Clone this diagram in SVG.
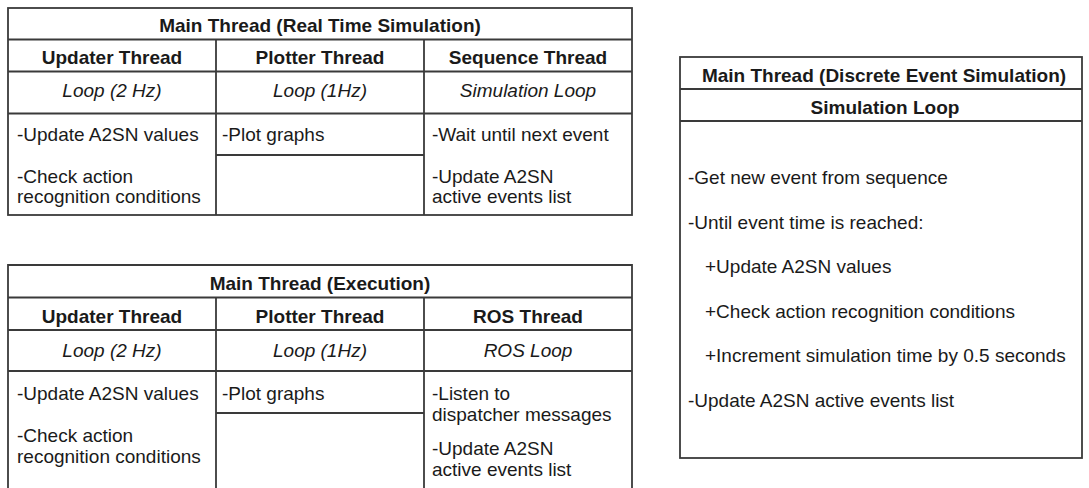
<svg xmlns="http://www.w3.org/2000/svg" width="1089" height="488" viewBox="0 0 1089 488">
  <style>
    .grid { fill: none; stroke: #3a3a3a; stroke-width: 1.8; }
    text { font-family: "Liberation Sans", Arial, Helvetica, sans-serif; font-size: 19px; fill: #1a1a1a; }
    .h { font-weight: bold; text-anchor: middle; }
    .i { font-style: italic; text-anchor: middle; }
  </style>
  <rect width="1089" height="488" fill="#ffffff"/>

  <!-- Real time simulation: main thread with three worker threads -->
  <g id="realtime-table">
    <rect class="grid" x="8" y="8" width="624" height="207"/>
    <path class="grid" d="M8 39.5H632 M8 71.5H632 M8 113.5H632 M216 39.5V215 M424 39.5V215 M216 155H424"/>
    <text class="h" x="320" y="31.5">Main Thread (Real Time Simulation)</text>
    <text class="h" x="112" y="64">Updater Thread</text>
    <text class="h" x="320" y="64">Plotter Thread</text>
    <text class="h" x="528" y="64">Sequence Thread</text>
    <text class="i" x="112" y="97">Loop (2 Hz)</text>
    <text class="i" x="320" y="97">Loop (1Hz)</text>
    <text class="i" x="528" y="97">Simulation Loop</text>
    <text x="17" y="141">-Update A2SN values</text>
    <text x="17" y="183">-Check action</text>
    <text x="17" y="203">recognition conditions</text>
    <text x="222" y="141">-Plot graphs</text>
    <text x="432" y="141">-Wait until next event</text>
    <text x="432" y="183">-Update A2SN</text>
    <text x="432" y="203">active events list</text>
  </g>

  <!-- Execution: main thread with updater, plotter and ROS threads -->
  <g id="execution-table">
    <path class="grid" d="M8 492V265H632V492 M8 297.5H632 M8 330H632 M8 371H632 M216 297.5V492 M424 297.5V492 M216 413H424"/>
    <text class="h" x="320" y="290">Main Thread (Execution)</text>
    <text class="h" x="112" y="323">Updater Thread</text>
    <text class="h" x="320" y="323">Plotter Thread</text>
    <text class="h" x="528" y="323">ROS Thread</text>
    <text class="i" x="112" y="357">Loop (2 Hz)</text>
    <text class="i" x="320" y="357">Loop (1Hz)</text>
    <text class="i" x="528" y="357">ROS Loop</text>
    <text x="17" y="400">-Update A2SN values</text>
    <text x="17" y="441.5">-Check action</text>
    <text x="17" y="463">recognition conditions</text>
    <text x="222" y="400">-Plot graphs</text>
    <text x="432" y="399.5">-Listen to</text>
    <text x="432" y="421">dispatcher messages</text>
    <text x="432" y="455">-Update A2SN</text>
    <text x="432" y="476">active events list</text>
  </g>

  <!-- Discrete event simulation: single main thread loop -->
  <g id="discrete-table">
    <rect class="grid" x="680" y="57" width="402" height="401"/>
    <path class="grid" d="M680 89H1082 M680 121H1082"/>
    <text class="h" x="884" y="82">Main Thread (Discrete Event Simulation)</text>
    <text class="h" x="885" y="113.5">Simulation Loop</text>
    <text x="688" y="184">-Get new event from sequence</text>
    <text x="688" y="228.5">-Until event time is reached:</text>
    <text x="705" y="273">+Update A2SN values</text>
    <text x="705" y="317.5">+Check action recognition conditions</text>
    <text x="705" y="362">+Increment simulation time by 0.5 seconds</text>
    <text x="688" y="406.5">-Update A2SN active events list</text>
  </g>
</svg>
